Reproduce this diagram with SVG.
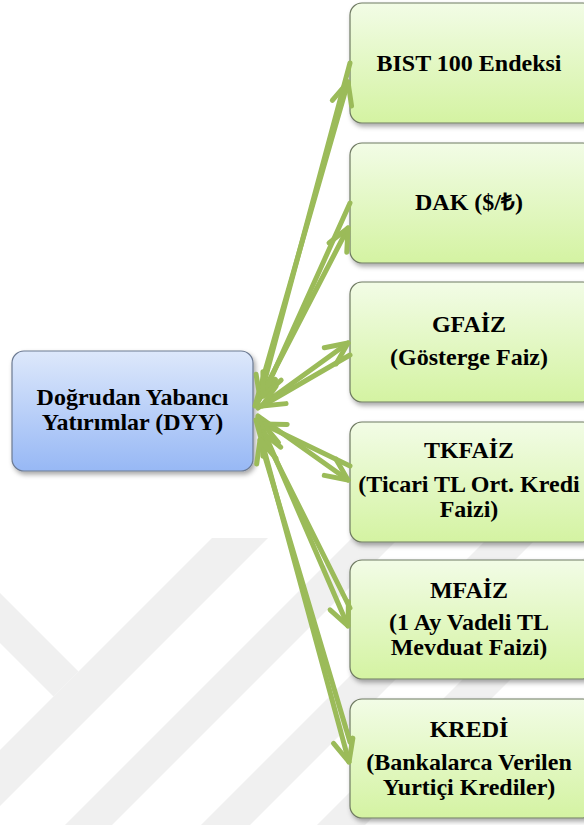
<svg xmlns="http://www.w3.org/2000/svg" width="584" height="825" viewBox="0 0 584 825">
<style>
  .lbl { font-family: 'Liberation Serif', 'Times New Roman', serif; font-weight: 700; font-size: 24px; text-anchor: middle; fill: #000; }
  .gnode { fill: url(#gGreen); stroke: #6f7a62; stroke-width: 1.2; filter: url(#shadow); }
  .bnode { fill: url(#gBlue); stroke: #6c7a92; stroke-width: 1.2; filter: url(#shadow); }
  .wm { fill: #f0f0f0; }
  .conn line { stroke: #9bbb59; stroke-width: 5; stroke-linecap: round; marker-end: url(#arrow); }
</style>
<defs>
  <linearGradient id="gGreen" x1="0" y1="0" x2="0" y2="1">
    <stop offset="0" stop-color="#f2fce6"/>
    <stop offset="1" stop-color="#d4f3a2"/>
  </linearGradient>
  <linearGradient id="gBlue" x1="0" y1="0" x2="0" y2="1">
    <stop offset="0" stop-color="#dde8fb"/>
    <stop offset="1" stop-color="#97b8f5"/>
  </linearGradient>
  <filter id="shadow" x="-10%" y="-10%" width="125%" height="130%">
    <feDropShadow dx="2" dy="3" stdDeviation="2.5" flood-color="#000" flood-opacity="0.35"/>
  </filter>
  <marker id="arrow" markerUnits="userSpaceOnUse" viewBox="-28 -15 32 30" markerWidth="32" markerHeight="30" refX="0" refY="0" orient="auto" overflow="visible">
    <path d="M-22,-10 L0,0 L-22,10" fill="none" stroke="#9bbb59" stroke-width="5" stroke-linecap="round" stroke-linejoin="round"/>
  </marker>
</defs>
<rect width="584" height="825" fill="#fff"/>
<g id="watermark">
  <polygon class="wm" points="212,538 268,538 0,806 0,750"/>
  <polygon class="wm" points="0,593 78.5,671.5 53.5,696.5 0,643"/>
  <polygon class="wm" points="352,538 399,538 112,825 65,825"/>
  <polygon class="wm" points="488,538 537,538 250,825 201,825"/>
  <polygon class="wm" points="604,538 652,538 365,825 317,825"/>
</g>
<g id="dyy">
  <rect class="bnode" x="12" y="351" width="241" height="120" rx="12"/>
  <text class="lbl" x="132.5" y="405">Doğrudan Yabancı</text>
  <text class="lbl" x="132.5" y="430">Yatırımlar (DYY)</text>
</g>
<g id="bist">
  <rect class="gnode" x="350" y="3" width="245" height="120" rx="12"/>
  <text class="lbl" x="469" y="71">BIST 100 Endeksi</text>
</g>
<g id="dak">
  <rect class="gnode" x="350" y="143" width="245" height="120" rx="12"/>
  <text class="lbl" x="469" y="210">DAK ($/₺)</text>
</g>
<g id="gfaiz">
  <rect class="gnode" x="350" y="282" width="245" height="120" rx="12"/>
  <text class="lbl" x="469" y="332">GFAİZ</text>
  <text class="lbl" x="469" y="365">(Gösterge Faiz)</text>
</g>
<g id="tkfaiz">
  <rect class="gnode" x="350" y="422" width="245" height="120" rx="12"/>
  <text class="lbl" x="469" y="458">TKFAİZ</text>
  <text class="lbl" x="469" y="492">(Ticari TL Ort. Kredi</text>
  <text class="lbl" x="469" y="517">Faizi)</text>
</g>
<g id="mfaiz">
  <rect class="gnode" x="350" y="560" width="245" height="119" rx="12"/>
  <text class="lbl" x="469" y="598">MFAİZ</text>
  <text class="lbl" x="469" y="630">(1 Ay Vadeli TL</text>
  <text class="lbl" x="469" y="655">Mevduat Faizi)</text>
</g>
<g id="kredi">
  <rect class="gnode" x="350" y="699" width="245" height="119" rx="12"/>
  <text class="lbl" x="469" y="737">KREDİ</text>
  <text class="lbl" x="469" y="770">(Bankalarca Verilen</text>
  <text class="lbl" x="469" y="795">Yurtiçi Krediler)</text>
</g>
<g id="connectors" class="conn">
  <line x1="255" y1="406" x2="348" y2="82"/>
  <line x1="350" y1="63" x2="260" y2="398"/>
  <line x1="257" y1="404" x2="348" y2="228"/>
  <line x1="350" y1="203" x2="263" y2="396"/>
  <line x1="258" y1="408" x2="348" y2="343"/>
  <line x1="350" y1="355" x2="262" y2="406"/>
  <line x1="258" y1="416" x2="348" y2="480"/>
  <line x1="350" y1="466" x2="263" y2="424"/>
  <line x1="258" y1="418" x2="348" y2="626"/>
  <line x1="350" y1="608" x2="262" y2="432"/>
  <line x1="256" y1="420" x2="349" y2="762"/>
  <line x1="350" y1="742" x2="260" y2="440"/>
</g>
</svg>
